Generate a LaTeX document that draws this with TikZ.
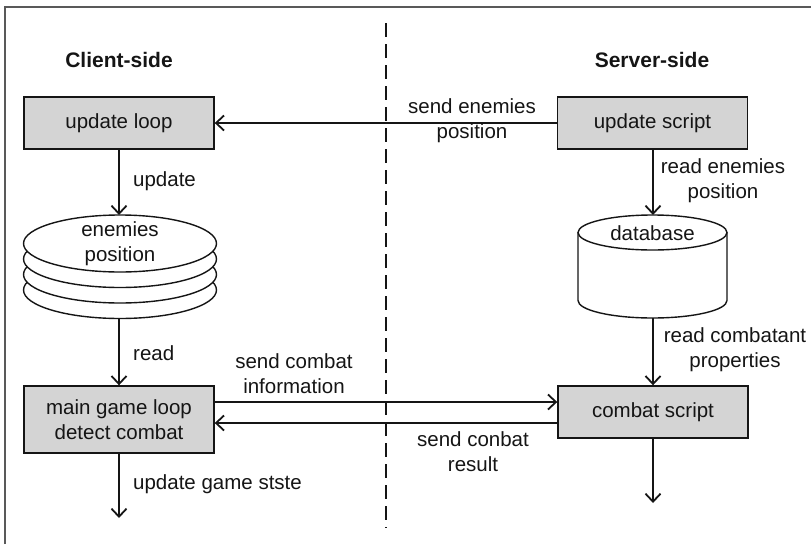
\documentclass[tikz,border=0pt]{standalone}
\usepackage{fontspec}
\setmainfont{Liberation Sans}
\usetikzlibrary{arrows.meta,calc}
\definecolor{boxfill}{HTML}{D4D4D4}
\definecolor{ink}{HTML}{151515}
\begin{document}
\begin{tikzpicture}[x=1pt,y=-1pt,
  every node/.style={text=ink,font=\fontsize{20.5}{25}\selectfont},
  procbox/.style={draw=ink,line width=1.4pt,fill=boxfill,minimum width=190pt,align=center,inner sep=0pt},
  lbl/.style={align=center,inner sep=0pt},
  lbll/.style={anchor=west,inner sep=0pt},
  hdr/.style={font=\fontsize{21}{24}\selectfont\bfseries},
  arr/.style={draw=ink,line width=1.4pt,-{Straight Barb[length=8pt,width=15pt,line width=1.8pt]}},
  discshape/.style={draw=ink,line width=1.4pt,fill=white}
]
\useasboundingbox (0,0) rectangle (811,544);
% frame
\draw[gray!70!black,line width=1.2pt] (5,544) -- (5,7) -- (811,7);
% divider
\draw[ink,line width=1.4pt,dash pattern=on 14pt off 7pt] (386,23) -- (386,528);
% headers
\node[hdr] (hclient) at (119,60) {Client-side};
\node[hdr] (hserver) at (652,60) {Server-side};
% boxes
\node[procbox,minimum height=52pt] (uloop) at (119,123) {update loop};
\node[procbox,minimum height=52pt] (uscript) at (652.5,123) {update script};
\node[procbox,minimum height=67pt] (main) at (119,419.5) {main game loop\\detect combat};
\node[procbox,minimum height=52pt] (combat) at (653,412) {combat script};
% stack of discs
\foreach \k in {3,2,1,0}{
  \draw[discshape] (120,243.5+15.5*\k) ellipse [x radius=96.5pt,y radius=28.5pt];
}
\node[lbl] (enemies) at (120,244) {enemies\\position};
\coordinate (stacktop) at (119,215);
\coordinate (stackbot) at (119,319);
% database
\draw[discshape] (578,232.5) -- (578,300.5) arc[start angle=180,end angle=360,x radius=74.5pt,y radius=17.5pt] -- (727,232.5);
\draw[discshape] (652.5,232.5) ellipse [x radius=74.5pt,y radius=17.5pt];
\node[lbl] (db) at (652.5,233) {database};
\coordinate (dbtop) at (653,215);
\coordinate (dbbot) at (653,318);
% end points
\coordinate (mainout) at (119,518);
\coordinate (combatout) at (653,503);
% connectors
\draw[arr] (uscript.west) -- (uloop.east);
\node[lbl] (l1) at (472,121) {send enemies\\position};
\draw[arr] (uloop.south) -- (stacktop);
\node[lbll] (l2) at (133,181) {update};
\draw[arr] (stackbot) -- (main.north);
\node[lbll] (l3) at (133,353) {read};
\draw[arr] (uscript.south -| dbtop) -- (dbtop);
\node[lbl] (l4) at (723,181) {read enemies\\position};
\draw[arr] (dbbot) -- (combat.north -| dbbot);
\node[lbl] (l5) at (735,350) {read combatant\\properties};
\draw[arr] (main.east |- 0,402) -- (combat.west |- 0,402);
\node[lbl] (l6) at (294,374) {send combat\\information};
\draw[arr] (combat.west |- 0,423) -- (main.east |- 0,423);
\node[lbl] (l7) at (473,452) {send conbat\\result};
\draw[arr] (main.south) -- (mainout);
\node[lbll] (l8) at (133,484) {update game stste};
\draw[arr] (combat.south) -- (combatout);
\end{tikzpicture}
\end{document}
